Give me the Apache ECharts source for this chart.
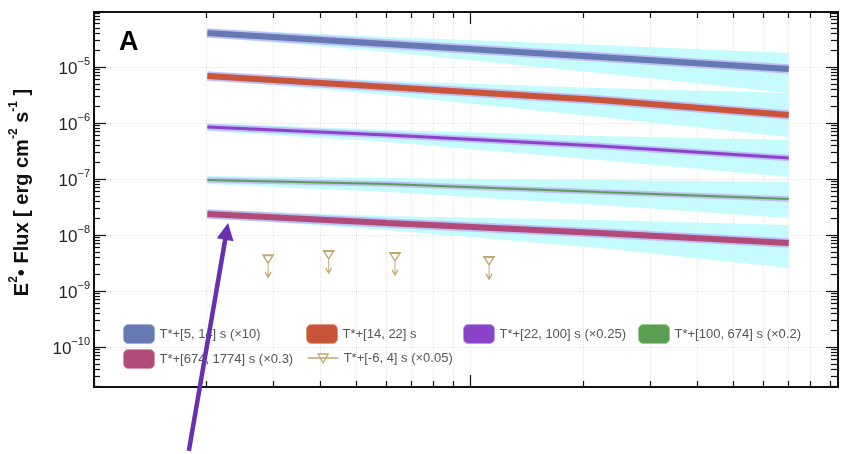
<!DOCTYPE html>
<html><head><meta charset="utf-8">
<script src="https://cdn.jsdelivr.net/npm/echarts@6/dist/echarts.min.js"></script>
<style>html,body{margin:0;padding:0;background:#fff}#c{width:844px;height:454px}</style>
</head><body><div id="c"></div>
<script>
// ---------- data ----------
const energy = [200, 600, 2200, 7000];

const blueFlux  = [4.05e-5, 2.58e-5, 1.51e-5, 9.2e-6];
const blueUpper = [4.77e-5, 3.44e-5, 2.47e-5, 1.78e-5];
const blueLower = [3.44e-5, 1.85e-5, 7.81e-6, 3.44e-6];

const redFlux  = [6.9e-6, 4.40e-6, 2.58e-6, 1.39e-6];
const redUpper = [8.14e-6, 5.62e-6, 4.22e-6, 3.44e-6];
const redLower = [5.86e-6, 3.16e-6, 1.28e-6, 5.62e-7];

const purpleFlux  = [8.48e-7, 6.1e-7, 3.88e-7, 2.37e-7];
const purpleUpper = [1.0e-6, 7.5e-7, 5.86e-7, 4.97e-7];
const purpleLower = [7.2e-7, 4.58e-7, 2.18e-7, 1.09e-7];

const greenFlux  = [9.6e-8, 8.15e-8, 5.86e-8, 4.40e-8];
const greenUpper = [1.13e-7, 1.04e-7, 9.6e-8, 8.84e-8];
const greenLower = [8.15e-8, 5.86e-8, 3.44e-8, 2.01e-8];

const pinkFlux  = [2.37e-8, 1.64e-8, 1.09e-8, 7.2e-9];
const pinkUpper = [2.79e-8, 2.18e-8, 1.85e-8, 1.51e-8];
const pinkLower = [2.01e-8, 1.23e-8, 5.86e-9, 2.58e-9];

const ulEnergy = [290, 420, 630, 1120];
const ulFlux   = [3.7e-9, 4.4e-9, 4.05e-9, 3.44e-9];

const seriesNames = [
  'T*+[5, 14] s (×10)',
  'T*+[14, 22] s',
  'T*+[22, 100] s (×0.25)',
  'T*+[100, 674] s (×0.2)',
  'T*+[674, 1774] s (×0.3)',
  'T*+[-6, 4] s (×0.05)'
];

const xMajorTicks = [100, 1000];
const yMajorTicks = [1e-10, 1e-9, 1e-8, 1e-7, 1e-6, 1e-5];
const xMin = 100, xMax = 9460;
const yMin = 1.93e-11, yMax = 9.6e-5;

const arrowTip  = [227, 1.64e-8];
const arrowTail = [178.6, 1.39e-12];

const panelLabel = 'A';
const yAxisName = '{n|E}{s|2}{n|• Flux [ erg cm}{s|-2}{n| s}{s|-1}{n| ]}';

// ---------- styling ----------
const FONT = "'Liberation Sans', Arial, Helvetica, sans-serif";
const bandColor = '#c6fbfd';
const haloColor = 'rgba(190,172,245,0.75)';
const ulColor = '#b5904f';
const arrowColor = '#6a2fae';

const groups = [
  {flux: blueFlux,   up: blueUpper,   lo: blueLower,   color: '#6679b3', border: '#a2afd8', w: 6},
  {flux: redFlux,    up: redUpper,    lo: redLower,    color: '#c8543a', border: '#e29a88', w: 6},
  {flux: purpleFlux, up: purpleUpper, lo: purpleLower, color: '#8a42c8', border: '#b996e6', w: 3},
  {flux: greenFlux,  up: greenUpper,  lo: greenLower,  color: '#5a9e52', border: '#9ccc94', w: 2},
  {flux: pinkFlux,   up: pinkUpper,   lo: pinkLower,   color: '#b04a78', border: '#d995b4', w: 6}
];

// minor tick values
function minorTicks(decades, lo, hi) {
  const out = [];
  decades.forEach(d => { for (let k = 2; k <= 9; k++) { const v = k * d; if (v >= lo && v <= hi) out.push(v); } });
  return out;
}
const xMinorTicks = minorTicks([100, 1000], xMin, xMax);
const yMinorTicks = minorTicks([1e-11, 1e-10, 1e-9, 1e-8, 1e-7, 1e-6, 1e-5], yMin, yMax);

const chart = echarts.init(document.getElementById('c'), null, {renderer: 'canvas'});

const gridRect = {left: 93, right: 6, top: 12, bottom: 67};
const axisLineStyle = {color: '#111', width: 2};
const tickStyle = {color: '#111', width: 1.2};
const gridLineStyle = {type: 'dotted', color: '#e3e3e3', width: 1};

function xAx(grid, pos, ticks, len, split, line) {
  return {
    gridIndex: grid, type: 'log', logBase: 10, position: pos, min: xMin, max: xMax,
    axisLine: {show: line, onZero: false, lineStyle: axisLineStyle},
    axisTick: {show: true, inside: true, length: len, customValues: ticks, lineStyle: tickStyle},
    axisLabel: {show: false},
    splitLine: {show: split, lineStyle: gridLineStyle}
  };
}
function yAx(grid, pos, ticks, len, split, line, labels) {
  return {
    gridIndex: grid, type: 'log', logBase: 10, position: pos, min: yMin, max: yMax,
    axisLine: {show: line, onZero: false, lineStyle: axisLineStyle},
    axisTick: {show: true, inside: true, length: len, customValues: ticks, lineStyle: tickStyle},
    axisLabel: labels ? {
      show: true, margin: 4, customValues: ticks,
      formatter: v => '{b|10}{s|\u2212' + Math.round(-Math.log10(v)) + '}',
      rich: {
        b: {fontSize: 17, fontFamily: FONT, color: '#222', verticalAlign: 'bottom', lineHeight: 22},
        s: {fontSize: 11, fontFamily: FONT, color: '#222', verticalAlign: 'top', lineHeight: 12}
      }
    } : {show: false},
    splitLine: {show: split, lineStyle: gridLineStyle}
  };
}

const series = [];
groups.forEach((g, i) => {
  series.push({
    type: 'custom', xAxisIndex: 0, yAxisIndex: 0, silent: true, z: 1,
    data: [[energy[0], g.flux[0]]],
    renderItem: (params, api) => {
      if (params.dataIndex !== 0) return null;
      const upPts = energy.map((e, k) => api.coord([e, g.up[k]]));
      const loPts = energy.map((e, k) => api.coord([e, g.lo[k]])).reverse();
      return {type: 'polygon', shape: {points: upPts.concat(loPts)}, style: {fill: bandColor}};
    }
  });
  series.push({
    type: 'line', xAxisIndex: 0, yAxisIndex: 0, silent: true, z: 2, symbol: 'none',
    data: energy.map((e, k) => [e, g.flux[k]]),
    lineStyle: {color: haloColor, width: g.w + 3.5, cap: 'butt'}
  });
  series.push({
    name: seriesNames[i],
    type: 'line', xAxisIndex: 0, yAxisIndex: 0, z: 3, symbol: 'none',
    data: energy.map((e, k) => [e, g.flux[k]]),
    itemStyle: {color: g.color},
    lineStyle: {color: g.color, width: g.w, cap: 'butt'}
  });
});

series.push({
  name: seriesNames[5],
  type: 'scatter', xAxisIndex: 0, yAxisIndex: 0, z: 4,
  symbol: 'path://M0,0L10,0L5,8Z M5,8L5,22 M2,17L5,22L8,17',
  symbolSize: [10, 22], symbolOffset: [0, 7],
  itemStyle: {color: 'rgba(0,0,0,0)', borderColor: ulColor, borderWidth: 1.4},
  data: ulEnergy.map((e, k) => [e, ulFlux[k]])
});

series.push({
  type: 'custom', xAxisIndex: 0, yAxisIndex: 0, silent: true, z: 20, clip: false,
  data: [arrowTip],
  renderItem: (params, api) => {
    const tail = api.coord(arrowTail), tip = api.coord(arrowTip);
    const dx = tip[0] - tail[0], dy = tip[1] - tail[1];
    const len = Math.hypot(dx, dy), ux = dx / len, uy = dy / len;
    const headLen = 17, headW = 8.5;
    const base = [tip[0] - ux * headLen, tip[1] - uy * headLen];
    const px = -uy, py = ux;
    return {type: 'group', children: [
      {type: 'line', shape: {x1: tail[0], y1: tail[1], x2: base[0] + ux * 2, y2: base[1] + uy * 2},
       style: {stroke: arrowColor, lineWidth: 4.5}},
      {type: 'polygon', shape: {points: [tip, [base[0] + px * headW, base[1] + py * headW], [base[0] - px * headW, base[1] - py * headW]]},
       style: {fill: arrowColor}}
    ]};
  }
});

const legendPos = [[123, 324], [306, 324], [463, 324], [638, 324], [123, 349], [307, 352]];
const legends = legendPos.map((p, i) => {
  const isUL = i === 5;
  return {
    show: true, selectedMode: false, left: p[0], top: p[1], padding: 0, itemGap: 0,
    itemWidth: 31, itemHeight: isUL ? 12 : 19,
    textStyle: {fontSize: 13, color: '#555', fontFamily: FONT},
    data: [isUL ? {
      name: seriesNames[i],
      icon: 'path://M0,4L31,4 M10.5,0L20.5,0L15.5,9Z',
      itemStyle: {color: '#fff', borderColor: ulColor, borderWidth: 1.3}
    } : {
      name: seriesNames[i], icon: 'roundRect',
      itemStyle: {color: groups[i].color, borderColor: groups[i].border, borderWidth: 1}
    }]
  };
});

chart.setOption({
  animation: false,
  backgroundColor: '#fff',
  title: {text: panelLabel, left: 119, top: 29, padding: 0,
    textStyle: {fontFamily: FONT, fontWeight: 'bold', fontSize: 27, color: '#000'}},
  grid: [Object.assign({}, gridRect), Object.assign({}, gridRect)],
  legend: legends,
  xAxis: [
    xAx(0, 'bottom', xMajorTicks, 12, true, true),
    xAx(0, 'top', xMajorTicks, 12, false, true),
    xAx(1, 'bottom', xMinorTicks, 6, true, false),
    xAx(1, 'top', xMinorTicks, 6, false, false)
  ],
  yAxis: [
    Object.assign(yAx(0, 'left', yMajorTicks, 12, true, true, true), {
      name: yAxisName, nameLocation: 'middle', nameGap: 62,
      nameTextStyle: {
        color: '#111', fontFamily: FONT, fontWeight: 'bold', fontSize: 20, padding: [0, 0, 0, 14],
        rich: {
          n: {fontSize: 20, fontWeight: 'bold', fontFamily: FONT, color: '#111', verticalAlign: 'bottom', lineHeight: 24},
          s: {fontSize: 12, fontWeight: 'bold', fontFamily: FONT, color: '#111', verticalAlign: 'top', lineHeight: 13}
        }
      }
    }),
    yAx(0, 'right', yMajorTicks, 12, false, true, false),
    yAx(1, 'left', yMinorTicks, 7, false, false, false),
    yAx(1, 'right', yMinorTicks, 7, false, false, false)
  ],
  series: series
});
</script></body></html>
